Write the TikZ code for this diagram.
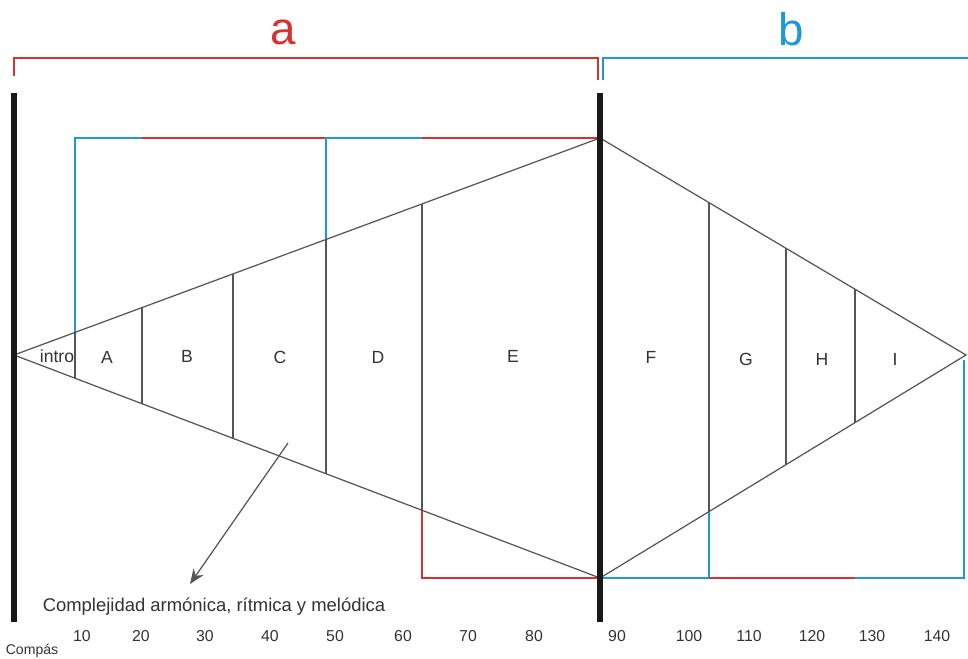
\documentclass[tikz,border=0pt]{standalone}
\usepackage{fontspec}
\setmainfont{Liberation Sans}
\usepackage{xcolor}
\definecolor{cRed}{HTML}{D8312F}
\definecolor{cBlue}{HTML}{1E98D6}
\definecolor{cLine}{HTML}{555555}
\definecolor{cText}{HTML}{333333}
\usepackage{tikz}
\usetikzlibrary{arrows.meta,calc}
\tikzset{
  bar-main/.style={line width=2.9pt,draw=black!90},
  line-form/.style={line width=0.7pt,draw=cLine},
  % tramos de color del marco: rojo / azul
  line-red/.style={line width=1.7pt,draw=cRed},
  line-blue/.style={line width=1.7pt,draw=cBlue},
  label-sec/.style={font=\fontsize{10}{12}\selectfont,text=cText,inner sep=0pt},
  label-part/.style={font=\fontsize{26}{30}\selectfont,inner sep=0pt,anchor=base},
  label-bar/.style={font=\fontsize{9}{11}\selectfont,text=cText,inner sep=0pt},
  arrow/.style={-{Stealth[length=3mm,width=2.4mm]},line width=0.7pt,draw=cLine},
}

\begin{document}
\begin{tikzpicture}[x=0.02cm,y=-0.02cm]
  \useasboundingbox (0,0) rectangle (968,659);
  % vertices of the form
  \coordinate (pL) at (14,355);
  \coordinate (pT) at (600,138);
  \coordinate (pB) at (600,578);
  \coordinate (pR) at (966,355);
  \coordinate (cR) at (964,578);
  \coordinate (eR) at (964,360);

  % sections, part a
  \foreach \x/\n in {75/1,142/2,233/3,326/4,422/5} {
    \coordinate (up-a\n) at ($(pL)!{(\x-14)/586}!(pT)$);
    \coordinate (lo-a\n) at ($(pL)!{(\x-14)/586}!(pB)$);
  }
  % sections, part b
  \foreach \x/\n in {709/1,786/2,855/3} {
    \coordinate (up-b\n) at ($(pT)!{(\x-600)/366}!(pR)$);
    \coordinate (lo-b\n) at ($(pB)!{(\x-600)/366}!(pR)$);
  }

  % colored frame
  \draw[line-blue] (up-a1) -- (up-a1 |- pT) -- (up-a2 |- pT);
  \draw[line-red] (up-a2 |- pT) -- (up-a4 |- pT);
  \draw[line-blue] (up-a4) -- (up-a4 |- pT) -- (up-a5 |- pT);
  \draw[line-red] (up-a5 |- pT) -- (pT);
  \draw[line-red] (lo-a5) -- (lo-a5 |- pB) -- (pB);
  \draw[line-blue] (pB) -- (lo-b1 |- pB);
  \draw[line-blue] (lo-b1) -- (lo-b1 |- pB);
  \draw[line-red] (lo-b1 |- pB) -- (lo-b3 |- pB);
  \draw[line-blue] (lo-b3 |- pB) -- (cR) -- (eR);

  % form
  \draw[line-form] (pL) -- (pT) -- (pR) -- (pB) -- cycle;
  \foreach \n in {1,...,5}
    \draw[line-form] (up-a\n) -- (lo-a\n);
  \foreach \n in {1,2,3}
    \draw[line-form] (up-b\n) -- (lo-b\n);

  % main bars
  \coordinate (barL-t) at (14,93);
  \coordinate (barL-b) at (14,622);
  \coordinate (barM-t) at (600,93);
  \coordinate (barM-b) at (600,622);
  \draw[bar-main] (barL-t) -- (barL-b);
  \draw[bar-main] (barM-t) -- (barM-b);

  % brackets a / b
  \coordinate (brA-l) at (14,76);
  \coordinate (brA-r) at (598,80);
  \coordinate (brB-l) at (603,80);
  \coordinate (brB-r) at (968,58);
  \draw[line-red] (brA-l) -- ++(0,-18) -| (brA-r);
  \draw[line-blue] (brB-l) |- (brB-r);
  \node[label-part,text=cRed] (part-a) at (283,44) {a};
  \node[label-part,text=cBlue] (part-b) at (791,46) {b};

  % section labels
  \foreach \x/\y/\t in {57/356/intro,107/357/A,187/356/B,280/357/C,378/357/D,
      513/356/E,651/357/F,746/359/G,822/359/H,895/359/I}
    \node[label-sec] (sec-\t) at (\x,\y) {\t};

  % complexity
  \coordinate (arr-s) at (288,443);
  \coordinate (arr-e) at (190,584);
  \draw[arrow] (arr-s) -- (arr-e);
  \node[label-sec,font=\fontsize{10.5}{12}\selectfont] (txt-cx) at (214,607)
    {Complejidad armónica, rítmica y melódica};

  % bar numbers
  \foreach \x/\t in {82/10,141/20,205/30,270/40,335/50,403/60,468/70,534/80,
      617/90,689/100,749/110,812/120,872/130,937/140}
    \node[label-bar] (num-\t) at (\x,636) {\t};
  \node[label-bar,font=\fontsize{8}{10}\selectfont] (txt-cp) at (32,651) {Compás};
\end{tikzpicture}
\end{document}
